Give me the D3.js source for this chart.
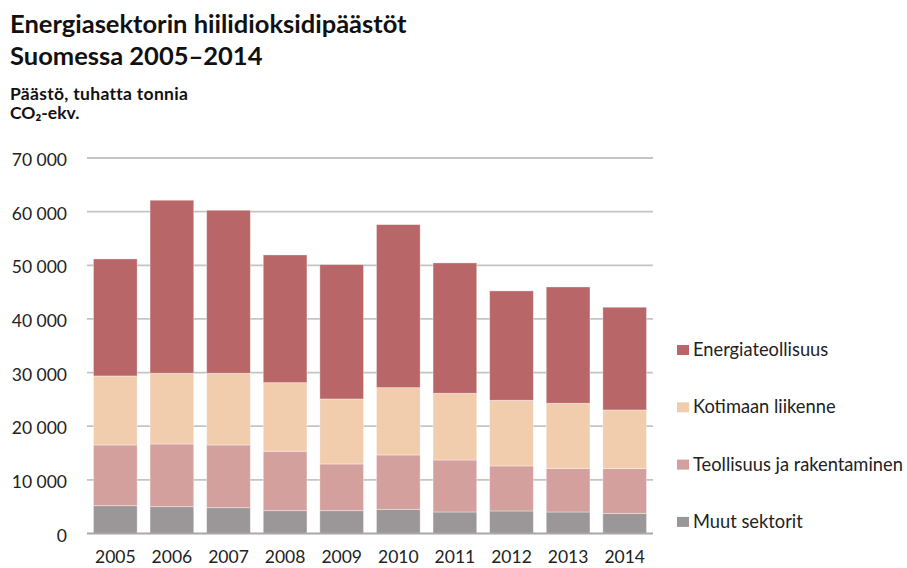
<!DOCTYPE html>
<html>
<head>
<meta charset="utf-8">
<script src="https://cdn.jsdelivr.net/npm/d3@7"></script>
<style>
  body { margin: 0; background: #fff; }
  svg { display: block; font-family: Lato, "Open Sans", sans-serif; }
</style>
</head>
<body>
<div id="chart"></div>
<script>
// data (tuhatta tonnia CO2-ekv.)
var years = ["2005", "2006", "2007", "2008", "2009", "2010", "2011", "2012", "2013", "2014"];
var muut        = [5180, 5000, 4810, 4250, 4250, 4510, 4010, 4200, 4010, 3760];
var teollisuus  = [11320, 11690, 11690, 11080, 8710, 10130, 9690, 8390, 8140, 8330];
var liikenne    = [12870, 13180, 13370, 12790, 12120, 12550, 12440, 12250, 12130, 10940];
var energia     = [21810, 32260, 30390, 23810, 25040, 30390, 24300, 20380, 21680, 19150];
var seriesNames = ["Muut sektorit", "Teollisuus ja rakentaminen", "Kotimaan liikenne", "Energiateollisuus"];
var yTicks = [0, 10000, 20000, 30000, 40000, 50000, 60000, 70000];

var width = 907, height = 568;
var colors = {
  "Muut sektorit": "#9b9697",
  "Teollisuus ja rakentaminen": "#d4a09d",
  "Kotimaan liikenne": "#f1cdae",
  "Energiateollisuus": "#b96669"
};

var rows = years.map(function(y, i) {
  return {
    year: y,
    "Muut sektorit": muut[i],
    "Teollisuus ja rakentaminen": teollisuus[i],
    "Kotimaan liikenne": liikenne[i],
    "Energiateollisuus": energia[i]
  };
});

var svg = d3.select("#chart").append("svg")
  .attr("width", width)
  .attr("height", height);

// plot area
var plotLeft = 87, plotRight = 653, plotTop = 158, plotBottom = 533.5;

var x = d3.scaleBand()
  .domain(years)
  .range([plotLeft, plotRight])
  .paddingInner(0.228)
  .paddingOuter(0.114);

var y = d3.scaleLinear()
  .domain([0, 70000])
  .range([plotBottom, plotTop]);

// gridlines
svg.append("g")
  .selectAll("line")
  .data(yTicks.slice(1))
  .enter().append("line")
    .attr("x1", plotLeft)
    .attr("x2", plotRight)
    .attr("y1", function(d) { return y(d); })
    .attr("y2", function(d) { return y(d); })
    .attr("stroke", "#c4c4c4")
    .attr("stroke-width", 1.8);

// y labels ("70 000")
var fmt = function(d) { return d3.format(",")(d).replace(/,/g, " "); };
svg.append("g")
  .selectAll("text")
  .data(yTicks)
  .enter().append("text")
    .attr("x", 67)
    .attr("y", function(d) { return y(d) + 8; })
    .attr("text-anchor", "end")
    .style("font-size", "17.5px")
    .style("fill", "#222")
    .text(fmt);

// stacked bars
var stack = d3.stack().keys(seriesNames);
var layers = stack(rows);

svg.append("g")
  .selectAll("g")
  .data(layers)
  .enter().append("g")
    .attr("fill", function(d) { return colors[d.key]; })
  .selectAll("rect")
  .data(function(d) { return d; })
  .enter().append("rect")
    .attr("x", function(d) { return x(d.data.year); })
    .attr("width", x.bandwidth())
    .attr("y", function(d) { return y(d[1]); })
    .attr("height", function(d) { return y(d[0]) - y(d[1]); })
    .attr("stroke", "rgba(255,255,255,0.45)")
    .attr("stroke-width", 0.8);

// baseline
svg.append("line")
  .attr("x1", plotLeft)
  .attr("x2", plotRight)
  .attr("y1", plotBottom)
  .attr("y2", plotBottom)
  .attr("stroke", "#a8a8a8")
  .attr("stroke-width", 1.8);

// x labels
svg.append("g")
  .selectAll("text")
  .data(years)
  .enter().append("text")
    .attr("x", function(d) { return x(d) + x.bandwidth() / 2; })
    .attr("y", 563)
    .attr("text-anchor", "middle")
    .style("font-size", "17.5px")
    .style("fill", "#222")
    .text(function(d) { return d; });

// legend (top to bottom: Energiateollisuus first)
var legendItems = seriesNames.slice().reverse();
var legend = svg.append("g")
  .selectAll("g")
  .data(legendItems)
  .enter().append("g")
    .attr("transform", function(d, i) { return "translate(677," + (350 + i * 57.3) + ")"; });
legend.append("rect")
  .attr("x", 0)
  .attr("y", -5)
  .attr("width", 12)
  .attr("height", 10)
  .attr("fill", function(d) { return colors[d]; });
legend.append("text")
  .attr("x", 16)
  .attr("y", 6)
  .style("font-size", "18.3px")
  .style("fill", "#222")
  .text(function(d) { return d; });

// titles
var titles = [
  {t: "Energiasektorin hiilidioksidipäästöt", y: 33},
  {t: "Suomessa 2005\u20132014", y: 65}
];
svg.append("g")
  .selectAll("text")
  .data(titles)
  .enter().append("text")
    .attr("x", 10)
    .attr("y", function(d) { return d.y; })
    .style("font-size", "25.5px")
    .style("font-weight", "700")
    .style("fill", "#111")
    .text(function(d) { return d.t; });

svg.append("text")
  .attr("x", 10)
  .attr("y", 100)
  .style("font-size", "17.5px")
  .style("font-weight", "700")
  .style("letter-spacing", "0.3px")
  .style("fill", "#111")
  .text("Päästö, tuhatta tonnia");

svg.append("text")
  .attr("x", 10)
  .attr("y", 119)
  .style("font-size", "17.5px")
  .style("font-weight", "700")
  .style("fill", "#111")
  .text("CO\u2082-ekv.");
</script>
</body>
</html>
